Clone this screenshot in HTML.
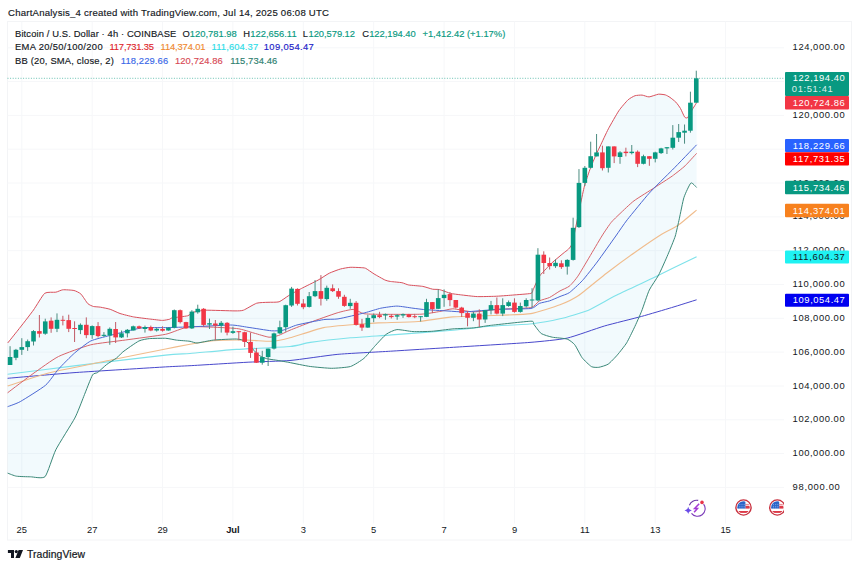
<!DOCTYPE html>
<html><head><meta charset="utf-8"><style>
html,body{margin:0;padding:0;background:#fff;width:860px;height:568px;overflow:hidden}
svg{position:absolute;left:0;top:0;display:block}
text{font-family:"Liberation Sans",sans-serif}
</style></head><body>
<svg width="860" height="568" viewBox="0 0 860 568">

<rect x="7.5" y="21.5" width="844" height="518.5" fill="#fff" stroke="#F3F4F6" stroke-width="1"/>
<path d="M7.5,487.4 H784 M7.5,453.6 H784 M7.5,419.8 H784 M7.5,386.0 H784 M7.5,352.1 H784 M7.5,318.3 H784 M7.5,284.5 H784 M7.5,250.7 H784 M7.5,216.9 H784 M7.5,183.0 H784 M7.5,149.2 H784 M7.5,115.4 H784 M7.5,81.6 H784 M7.5,47.8 H784 M21.8,21.5 V523.5 M92.2,21.5 V523.5 M162.6,21.5 V523.5 M232.9,21.5 V523.5 M303.3,21.5 V523.5 M373.7,21.5 V523.5 M444.1,21.5 V523.5 M514.5,21.5 V523.5 M584.8,21.5 V523.5 M655.2,21.5 V523.5 M725.6,21.5 V523.5" stroke="#F6F7F9" stroke-width="1" fill="none"/>
<path d="M7.7,343.0 C8.7,341.8 15.7,333.0 18.1,330.0 C20.5,327.0 31.1,313.4 33.5,310.0 C35.9,306.6 42.7,294.9 44.7,293.3 C46.7,291.7 54.1,292.5 55.8,292.2 C57.5,291.9 61.1,290.0 62.8,289.8 C64.5,289.6 72.3,290.1 74.0,290.5 C75.7,290.9 79.6,292.8 80.9,294.0 C82.2,295.2 86.7,302.6 87.9,303.7 C89.1,304.8 92.3,306.2 93.5,306.5 C94.7,306.8 99.0,306.9 100.5,307.2 C102.0,307.5 108.4,308.7 110.2,309.3 C112.0,309.9 117.9,312.8 120.0,313.5 C122.1,314.2 130.8,316.4 133.5,316.9 C136.2,317.4 147.0,318.7 149.6,319.0 C152.2,319.3 160.6,320.4 162.4,320.4 C164.2,320.4 168.5,319.5 169.4,319.3 C170.3,319.1 170.5,318.2 172.2,317.9 C173.9,317.6 185.7,316.3 187.6,315.8 C189.5,315.3 191.4,312.8 193.1,312.3 C194.8,311.8 201.9,310.3 205.7,310.2 C209.5,310.1 231.5,310.9 235.0,310.9 C238.5,310.9 241.4,310.9 243.4,310.2 C245.4,309.5 254.4,303.9 256.7,303.2 C259.0,302.5 265.9,302.4 268.0,302.3 C270.1,302.2 277.2,302.4 279.1,301.8 C281.0,301.2 286.8,296.7 288.8,295.5 C290.8,294.3 298.7,289.9 301.4,288.5 C304.1,287.1 315.5,281.5 318.1,280.1 C320.7,278.7 327.2,274.2 329.3,273.2 C331.4,272.2 338.6,269.5 340.5,269.0 C342.4,268.5 348.4,267.4 350.2,267.3 C352.0,267.2 358.6,267.5 360.0,267.6 C361.4,267.7 364.3,267.7 365.6,268.3 C366.9,268.9 372.2,272.8 374.0,273.9 C375.8,275.0 383.6,279.4 385.1,280.1 C386.6,280.8 389.2,281.3 390.7,281.5 C392.2,281.7 400.2,282.4 401.9,282.7 C403.6,283.0 406.9,284.7 408.8,285.0 C410.7,285.3 420.6,286.0 422.8,286.4 C425.0,286.8 431.1,288.9 432.6,289.2 C434.1,289.5 437.8,289.2 439.5,289.6 C441.2,290.0 448.8,292.9 450.7,293.4 C452.6,293.9 458.1,294.5 460.5,294.8 C462.9,295.1 474.2,296.5 477.4,296.6 C480.6,296.7 491.7,296.4 494.9,296.3 C498.1,296.2 509.0,295.4 512.3,295.1 C515.6,294.8 529.0,293.9 530.9,293.4 C532.8,292.9 532.5,290.9 533.3,289.3 C534.1,287.7 538.1,278.3 539.3,276.4 C540.5,274.5 544.9,270.1 546.1,268.8 C547.3,267.5 551.4,263.4 552.9,262.0 C554.4,260.6 561.6,254.7 563.0,253.5 C564.4,252.3 567.5,250.2 568.4,249.2 C569.3,248.2 571.3,246.6 572.4,242.5 C573.5,238.4 579.3,209.8 580.4,204.6 C581.5,199.4 583.6,189.1 584.5,185.9 C585.4,182.7 588.7,172.8 589.8,169.8 C590.9,166.8 595.5,155.9 596.5,153.7 C597.5,151.5 599.1,148.3 600.2,146.0 C601.3,143.7 606.7,132.0 608.4,128.8 C610.1,125.6 617.0,113.5 618.8,110.8 C620.6,108.1 626.6,101.2 628.1,99.8 C629.6,98.4 633.8,96.1 635.1,95.7 C636.4,95.3 640.8,95.0 642.1,95.1 C643.4,95.2 647.6,97.0 649.1,96.9 C650.6,96.8 656.9,94.4 658.4,94.2 C659.9,94.0 664.2,94.6 665.3,94.9 C666.4,95.2 669.0,96.7 670.0,97.4 C671.0,98.1 674.8,101.1 675.8,102.1 C676.8,103.1 679.7,107.1 680.5,108.5 C681.3,109.9 683.9,116.0 684.5,116.9 C685.1,117.8 686.8,118.2 687.4,117.8 C688.0,117.4 690.0,113.4 690.8,112.0 C691.6,110.6 696.1,103.5 696.6,102.6 L696.6,187.5 C696.1,187.1 692.1,182.1 690.9,183.0 C689.7,183.9 685.1,194.0 684.0,197.3 C682.9,200.6 680.1,215.3 679.3,218.8 C678.5,222.3 676.3,232.7 675.3,236.0 C674.3,239.3 669.4,251.0 667.9,254.6 C666.4,258.2 660.3,271.9 658.6,275.1 C656.9,278.3 650.9,286.7 649.3,290.0 C647.7,293.3 643.0,307.7 641.6,311.2 C640.2,314.7 635.6,325.0 634.2,327.9 C632.8,330.8 628.2,340.3 626.7,342.8 C625.2,345.3 619.1,352.9 617.4,354.9 C615.7,356.9 609.8,363.1 608.1,364.2 C606.4,365.3 600.3,367.1 598.8,367.3 C597.3,367.5 592.9,367.5 591.4,366.6 C589.9,365.7 583.6,359.7 582.1,357.7 C580.6,355.7 576.1,346.4 574.7,344.7 C573.3,343.0 569.3,339.8 567.2,339.1 C565.1,338.4 554.7,337.7 552.3,337.2 C549.9,336.7 542.9,334.7 541.2,333.5 C539.5,332.3 534.6,325.3 533.7,324.2 C532.8,323.1 534.9,321.1 530.9,321.2 C526.9,321.3 495.6,324.8 490.3,325.4 C485.0,326.0 476.8,327.6 473.4,327.9 C470.0,328.2 456.7,328.6 452.9,328.9 C449.1,329.2 435.4,331.1 431.7,331.3 C428.0,331.5 416.2,331.8 413.0,331.6 C409.8,331.4 399.4,329.4 396.9,329.6 C394.4,329.8 388.2,332.8 386.2,334.3 C384.2,335.8 376.6,344.2 374.6,346.4 C372.6,348.6 366.1,356.6 363.9,358.4 C361.7,360.2 353.5,365.6 350.5,366.5 C347.5,367.4 335.4,368.3 331.7,368.3 C328.0,368.3 314.2,367.0 310.3,366.5 C306.4,366.0 292.1,363.0 288.9,362.4 C285.7,361.8 277.8,360.4 275.8,360.1 C273.8,359.8 268.2,359.1 266.7,358.7 C265.2,358.3 261.0,356.5 259.8,355.8 C258.6,355.1 255.1,351.8 254.0,350.6 C252.9,349.4 249.0,343.9 248.1,343.0 C247.2,342.1 245.8,341.1 244.7,340.7 C243.6,340.3 239.4,339.1 236.5,339.0 C233.6,338.9 216.9,339.7 213.3,340.1 C209.7,340.5 199.1,342.9 197.0,343.0 C194.9,343.1 191.9,341.6 190.0,341.3 C188.1,341.0 178.6,340.4 176.4,340.1 C174.2,339.8 168.1,338.4 165.6,338.3 C163.1,338.2 152.0,338.4 149.6,338.6 C147.2,338.8 141.4,339.8 138.9,341.0 C136.4,342.2 124.8,350.4 122.8,352.0 C120.8,353.6 118.1,356.9 116.6,358.0 C115.1,359.1 108.4,363.2 106.7,364.5 C105.0,365.8 98.9,371.5 97.6,372.5 C96.3,373.5 93.8,372.8 92.5,375.0 C91.2,377.2 85.3,392.6 83.7,396.6 C82.1,400.6 77.4,413.2 74.8,418.1 C72.2,423.0 58.5,444.4 55.8,449.8 C53.1,455.2 47.4,474.1 45.1,476.6 C42.8,479.1 33.0,476.8 30.4,476.8 C27.8,476.8 18.6,476.5 16.5,476.2 C14.4,475.9 8.4,473.4 7.6,473.1 Z" fill="#0A9CD6" fill-opacity="0.055" stroke="none"/>
<path d="M7.6,378.3 C13.9,377.8 61.6,373.5 76.1,372.5 C90.6,371.5 155.2,367.5 165.6,366.9 C176.0,366.3 182.4,366.1 190.0,365.7 C197.6,365.3 238.9,362.7 248.1,362.2 C257.3,361.7 281.8,361.2 290.0,360.5 C298.2,359.8 327.9,355.3 337.1,354.4 C346.3,353.5 379.4,351.9 390.6,351.2 C401.8,350.5 446.9,347.7 459.7,346.9 C472.5,346.1 520.1,343.2 530.0,342.4 C539.9,341.6 560.4,339.6 567.2,338.1 C574.0,336.6 597.6,328.0 604.4,326.0 C611.2,324.0 635.4,318.1 641.6,316.4 C647.8,314.7 666.6,309.1 671.6,307.6 C676.6,306.1 694.3,300.5 696.6,299.8" stroke="#4848CC" stroke-width="1.0" fill="none" stroke-linejoin="round"/>
<path d="M7.6,374.3 C13.9,373.5 61.6,367.4 76.1,365.6 C90.6,363.8 155.2,356.2 165.6,355.1 C176.0,354.0 183.5,354.0 190.0,353.5 C196.5,353.0 227.3,350.0 236.5,349.4 C245.7,348.8 283.2,347.1 290.0,346.5 C296.8,345.9 304.8,343.2 310.3,342.4 C315.8,341.6 343.1,338.5 350.5,337.8 C357.9,337.1 382.1,335.6 391.5,334.9 C400.9,334.2 443.8,331.0 452.9,330.2 C462.0,329.4 483.0,326.9 490.3,326.3 C497.6,325.7 526.2,324.4 532.6,323.7 C539.0,323.0 554.9,320.0 560.0,318.8 C565.1,317.6 582.8,312.5 587.9,310.4 C593.0,308.3 609.8,298.5 615.8,295.5 C621.8,292.5 645.6,281.5 653.0,277.9 C660.4,274.3 692.6,258.6 696.6,256.7" stroke="#7EE2EA" stroke-width="1.1" fill="none" stroke-linejoin="round"/>
<path d="M7.6,385.9 C11.6,384.7 41.1,374.9 50.7,372.5 C60.3,370.1 101.6,361.9 112.1,359.7 C122.6,357.5 158.5,350.4 165.6,349.0 C172.7,347.6 185.6,345.0 190.0,344.2 C194.4,343.4 208.0,341.1 213.3,340.7 C218.6,340.3 242.8,340.0 248.1,340.1 C253.4,340.2 267.6,341.5 271.4,341.3 C275.2,341.1 285.2,339.1 290.0,337.8 C294.8,336.5 317.7,328.8 323.7,327.6 C329.7,326.4 350.8,324.8 355.8,324.4 C360.8,324.0 372.5,323.2 378.2,322.9 C383.9,322.6 411.5,322.1 418.3,321.5 C425.1,320.9 445.5,317.5 452.9,316.9 C460.3,316.3 491.6,315.6 498.7,315.3 C505.8,315.0 525.3,314.6 530.9,313.6 C536.5,312.6 555.6,306.5 560.0,304.8 C564.4,303.1 574.3,298.4 578.6,295.5 C582.9,292.6 601.4,277.1 606.5,273.2 C611.6,269.3 629.4,256.2 634.4,252.7 C639.4,249.2 656.5,237.5 660.5,235.0 C664.5,232.5 674.8,227.5 678.1,225.2 C681.4,222.9 694.9,211.5 696.6,210.1" stroke="#F0BC8C" stroke-width="1.1" fill="none" stroke-linejoin="round"/>
<path d="M7.6,392.8 C9.9,391.0 28.3,377.0 33.0,373.7 C37.7,370.4 53.2,359.1 58.5,356.5 C63.8,353.9 84.6,346.3 90.7,344.8 C96.8,343.3 118.6,341.0 125.5,340.0 C132.4,339.0 159.7,335.5 165.6,334.3 C171.5,333.1 183.5,327.2 190.0,326.7 C196.5,326.2 230.6,327.9 236.5,328.5 C242.4,329.1 251.0,332.3 254.0,333.1 C257.0,333.9 266.8,337.0 269.0,337.2 C271.2,337.4 276.5,336.1 278.4,335.5 C280.3,334.9 287.1,331.4 290.0,330.2 C292.9,329.0 306.0,323.9 310.3,322.3 C314.6,320.7 333.2,314.1 337.1,312.9 C341.0,311.7 350.7,309.3 353.2,309.4 C355.7,309.5 361.5,313.3 363.9,313.7 C366.3,314.1 374.7,314.3 379.9,314.3 C385.1,314.3 415.5,314.5 421.0,314.2 C426.5,313.9 436.8,312.0 439.7,311.5 C442.6,311.0 449.8,308.8 452.9,308.8 C456.0,308.8 469.2,311.9 473.4,311.9 C477.6,311.9 493.4,309.7 498.7,309.3 C504.0,308.9 527.2,308.4 530.9,307.6 C534.6,306.8 537.6,301.8 539.3,300.9 C541.0,300.0 547.6,298.4 549.5,297.5 C551.4,296.6 558.2,291.9 560.0,290.9 C561.8,289.9 567.6,287.6 569.3,286.2 C571.0,284.8 575.6,279.7 578.6,275.1 C581.6,270.5 598.9,240.8 601.9,236.0 C604.9,231.2 609.5,224.5 611.2,222.4 C612.9,220.3 617.9,215.6 620.0,213.6 C622.1,211.6 630.8,203.2 634.0,200.8 C637.2,198.4 651.4,189.7 654.9,187.4 C658.4,185.1 669.5,178.0 672.3,176.0 C675.1,174.0 682.9,167.9 685.1,165.8 C687.3,163.7 695.5,154.5 696.6,153.4" stroke="#D8646A" stroke-width="1.0" fill="none" stroke-linejoin="round"/>
<path d="M7.6,473.1 C8.4,473.4 14.4,475.9 16.5,476.2 C18.6,476.5 27.8,476.8 30.4,476.8 C33.0,476.8 42.8,479.1 45.1,476.6 C47.4,474.1 53.1,455.2 55.8,449.8 C58.5,444.4 72.2,423.0 74.8,418.1 C77.4,413.2 82.1,400.6 83.7,396.6 C85.3,392.6 91.2,377.2 92.5,375.0 C93.8,372.8 96.3,373.5 97.6,372.5 C98.9,371.5 105.0,365.8 106.7,364.5 C108.4,363.2 115.1,359.1 116.6,358.0 C118.1,356.9 120.8,353.6 122.8,352.0 C124.8,350.4 136.4,342.2 138.9,341.0 C141.4,339.8 147.2,338.8 149.6,338.6 C152.0,338.4 163.1,338.2 165.6,338.3 C168.1,338.4 174.2,339.8 176.4,340.1 C178.6,340.4 188.1,341.0 190.0,341.3 C191.9,341.6 194.9,343.1 197.0,343.0 C199.1,342.9 209.7,340.5 213.3,340.1 C216.9,339.7 233.6,338.9 236.5,339.0 C239.4,339.1 243.6,340.3 244.7,340.7 C245.8,341.1 247.2,342.1 248.1,343.0 C249.0,343.9 252.9,349.4 254.0,350.6 C255.1,351.8 258.6,355.1 259.8,355.8 C261.0,356.5 265.2,358.3 266.7,358.7 C268.2,359.1 273.8,359.8 275.8,360.1 C277.8,360.4 285.7,361.8 288.9,362.4 C292.1,363.0 306.4,366.0 310.3,366.5 C314.2,367.0 328.0,368.3 331.7,368.3 C335.4,368.3 347.5,367.4 350.5,366.5 C353.5,365.6 361.7,360.2 363.9,358.4 C366.1,356.6 372.6,348.6 374.6,346.4 C376.6,344.2 384.2,335.8 386.2,334.3 C388.2,332.8 394.4,329.8 396.9,329.6 C399.4,329.4 409.8,331.4 413.0,331.6 C416.2,331.8 428.0,331.5 431.7,331.3 C435.4,331.1 449.1,329.2 452.9,328.9 C456.7,328.6 470.0,328.2 473.4,327.9 C476.8,327.6 485.0,326.0 490.3,325.4 C495.6,324.8 526.9,321.3 530.9,321.2 C534.9,321.1 532.8,323.1 533.7,324.2 C534.6,325.3 539.5,332.3 541.2,333.5 C542.9,334.7 549.9,336.7 552.3,337.2 C554.7,337.7 565.1,338.4 567.2,339.1 C569.3,339.8 573.3,343.0 574.7,344.7 C576.1,346.4 580.6,355.7 582.1,357.7 C583.6,359.7 589.9,365.7 591.4,366.6 C592.9,367.5 597.3,367.5 598.8,367.3 C600.3,367.1 606.4,365.3 608.1,364.2 C609.8,363.1 615.7,356.9 617.4,354.9 C619.1,352.9 625.2,345.3 626.7,342.8 C628.2,340.3 632.8,330.8 634.2,327.9 C635.6,325.0 640.2,314.7 641.6,311.2 C643.0,307.7 647.7,293.3 649.3,290.0 C650.9,286.7 656.9,278.3 658.6,275.1 C660.3,271.9 666.4,258.2 667.9,254.6 C669.4,251.0 674.3,239.3 675.3,236.0 C676.3,232.7 678.5,222.3 679.3,218.8 C680.1,215.3 682.9,200.6 684.0,197.3 C685.1,194.0 689.7,183.9 690.9,183.0 C692.1,182.1 696.1,187.1 696.6,187.5" stroke="#3A8878" stroke-width="1.0" fill="none" stroke-linejoin="round"/>
<path d="M7.6,406.7 C8.8,406.2 16.8,403.6 20.3,401.6 C23.8,399.6 42.1,388.2 45.6,385.2 C49.1,382.2 55.8,372.1 58.5,369.1 C61.2,366.1 71.6,355.6 74.6,353.0 C77.6,350.4 87.5,342.6 90.7,341.0 C93.9,339.4 105.7,336.6 109.4,335.6 C113.1,334.6 127.6,330.9 130.8,330.2 C134.0,329.5 141.0,327.8 144.2,327.6 C147.4,327.4 161.2,327.7 165.6,327.6 C170.0,327.5 186.4,327.0 192.4,326.8 C198.4,326.6 225.6,325.0 230.7,325.0 C235.8,325.0 244.3,326.8 248.0,327.3 C251.7,327.8 268.2,330.5 271.4,330.8 C274.6,331.1 280.7,330.7 283.0,330.2 C285.3,329.7 293.2,326.0 296.9,325.0 C300.6,324.0 319.9,320.2 323.7,319.6 C327.5,319.0 334.2,319.5 338.0,318.9 C341.8,318.3 360.9,313.8 364.8,312.8 C368.7,311.8 377.9,308.8 380.8,308.2 C383.7,307.6 393.9,306.1 396.9,306.1 C399.9,306.1 410.5,307.9 413.0,308.2 C415.5,308.5 420.5,309.2 423.7,309.5 C426.9,309.8 444.2,310.8 448.0,311.0 C451.8,311.2 460.3,312.1 464.9,311.9 C469.5,311.7 492.6,309.6 498.7,309.3 C504.8,309.0 527.2,309.0 530.9,308.5 C534.6,308.0 537.6,304.1 539.3,303.4 C541.0,302.7 547.6,301.5 549.5,300.9 C551.4,300.3 558.2,297.3 560.0,296.5 C561.8,295.7 567.3,294.1 569.3,292.7 C571.3,291.3 579.7,283.5 582.3,280.7 C584.9,277.9 594.1,266.1 597.2,262.0 C600.3,257.9 613.0,239.9 615.8,236.0 C618.6,232.1 624.2,223.6 627.3,219.7 C630.4,215.8 645.0,197.9 649.1,193.3 C653.2,188.7 667.9,174.4 672.3,170.0 C676.7,165.6 694.4,147.1 696.6,144.8" stroke="#4C68D4" stroke-width="1.0" fill="none" stroke-linejoin="round"/>
<path d="M7.7,343.0 C8.7,341.8 15.7,333.0 18.1,330.0 C20.5,327.0 31.1,313.4 33.5,310.0 C35.9,306.6 42.7,294.9 44.7,293.3 C46.7,291.7 54.1,292.5 55.8,292.2 C57.5,291.9 61.1,290.0 62.8,289.8 C64.5,289.6 72.3,290.1 74.0,290.5 C75.7,290.9 79.6,292.8 80.9,294.0 C82.2,295.2 86.7,302.6 87.9,303.7 C89.1,304.8 92.3,306.2 93.5,306.5 C94.7,306.8 99.0,306.9 100.5,307.2 C102.0,307.5 108.4,308.7 110.2,309.3 C112.0,309.9 117.9,312.8 120.0,313.5 C122.1,314.2 130.8,316.4 133.5,316.9 C136.2,317.4 147.0,318.7 149.6,319.0 C152.2,319.3 160.6,320.4 162.4,320.4 C164.2,320.4 168.5,319.5 169.4,319.3 C170.3,319.1 170.5,318.2 172.2,317.9 C173.9,317.6 185.7,316.3 187.6,315.8 C189.5,315.3 191.4,312.8 193.1,312.3 C194.8,311.8 201.9,310.3 205.7,310.2 C209.5,310.1 231.5,310.9 235.0,310.9 C238.5,310.9 241.4,310.9 243.4,310.2 C245.4,309.5 254.4,303.9 256.7,303.2 C259.0,302.5 265.9,302.4 268.0,302.3 C270.1,302.2 277.2,302.4 279.1,301.8 C281.0,301.2 286.8,296.7 288.8,295.5 C290.8,294.3 298.7,289.9 301.4,288.5 C304.1,287.1 315.5,281.5 318.1,280.1 C320.7,278.7 327.2,274.2 329.3,273.2 C331.4,272.2 338.6,269.5 340.5,269.0 C342.4,268.5 348.4,267.4 350.2,267.3 C352.0,267.2 358.6,267.5 360.0,267.6 C361.4,267.7 364.3,267.7 365.6,268.3 C366.9,268.9 372.2,272.8 374.0,273.9 C375.8,275.0 383.6,279.4 385.1,280.1 C386.6,280.8 389.2,281.3 390.7,281.5 C392.2,281.7 400.2,282.4 401.9,282.7 C403.6,283.0 406.9,284.7 408.8,285.0 C410.7,285.3 420.6,286.0 422.8,286.4 C425.0,286.8 431.1,288.9 432.6,289.2 C434.1,289.5 437.8,289.2 439.5,289.6 C441.2,290.0 448.8,292.9 450.7,293.4 C452.6,293.9 458.1,294.5 460.5,294.8 C462.9,295.1 474.2,296.5 477.4,296.6 C480.6,296.7 491.7,296.4 494.9,296.3 C498.1,296.2 509.0,295.4 512.3,295.1 C515.6,294.8 529.0,293.9 530.9,293.4 C532.8,292.9 532.5,290.9 533.3,289.3 C534.1,287.7 538.1,278.3 539.3,276.4 C540.5,274.5 544.9,270.1 546.1,268.8 C547.3,267.5 551.4,263.4 552.9,262.0 C554.4,260.6 561.6,254.7 563.0,253.5 C564.4,252.3 567.5,250.2 568.4,249.2 C569.3,248.2 571.3,246.6 572.4,242.5 C573.5,238.4 579.3,209.8 580.4,204.6 C581.5,199.4 583.6,189.1 584.5,185.9 C585.4,182.7 588.7,172.8 589.8,169.8 C590.9,166.8 595.5,155.9 596.5,153.7 C597.5,151.5 599.1,148.3 600.2,146.0 C601.3,143.7 606.7,132.0 608.4,128.8 C610.1,125.6 617.0,113.5 618.8,110.8 C620.6,108.1 626.6,101.2 628.1,99.8 C629.6,98.4 633.8,96.1 635.1,95.7 C636.4,95.3 640.8,95.0 642.1,95.1 C643.4,95.2 647.6,97.0 649.1,96.9 C650.6,96.8 656.9,94.4 658.4,94.2 C659.9,94.0 664.2,94.6 665.3,94.9 C666.4,95.2 669.0,96.7 670.0,97.4 C671.0,98.1 674.8,101.1 675.8,102.1 C676.8,103.1 679.7,107.1 680.5,108.5 C681.3,109.9 683.9,116.0 684.5,116.9 C685.1,117.8 686.8,118.2 687.4,117.8 C688.0,117.4 690.0,113.4 690.8,112.0 C691.6,110.6 696.1,103.5 696.6,102.6" stroke="#D9505C" stroke-width="1.0" fill="none" stroke-linejoin="round"/>
<path d="M7.5,78.3 H784" stroke="#089981" stroke-opacity="0.6" stroke-width="1" stroke-dasharray="1,1.6" fill="none"/>
<path d="M10.07,346.2 V365.0 M15.94,348.9 V360.2 M21.80,338.2 V354.9 M27.66,339.5 V350.9 M33.53,330.1 V345.5 M45.26,318.7 V334.8 M56.99,313.4 V332.1 M80.45,323.4 V334.1 M92.18,325.4 V338.8 M103.91,332.1 V336.8 M109.78,327.4 V344.8 M121.50,330.5 V338.0 M127.37,329.0 V337.4 M133.24,325.6 V330.5 M144.97,325.6 V332.6 M156.70,327.7 V331.6 M168.43,327.4 V330.7 M174.29,309.5 V328.4 M191.89,310.2 V329.0 M197.75,304.7 V313.7 M209.48,318.6 V329.0 M221.21,321.0 V332.6 M232.94,326.7 V333.9 M262.26,350.8 V364.7 M268.13,348.6 V366.0 M274.00,332.6 V349.5 M279.86,320.7 V333.9 M285.73,304.7 V331.7 M291.59,286.9 V306.9 M309.19,292.0 V307.5 M315.05,280.1 V297.1 M326.78,285.6 V300.8 M350.24,298.8 V308.8 M367.84,314.8 V327.8 M373.70,313.5 V322.2 M385.43,313.5 V319.8 M397.16,314.2 V319.8 M403.03,313.5 V317.9 M420.62,316.2 V321.5 M426.49,298.8 V317.1 M438.22,289.4 V309.1 M444.08,289.4 V306.8 M473.41,311.9 V321.2 M485.14,310.2 V322.9 M491.00,300.9 V314.4 M502.73,298.3 V316.1 M508.60,300.5 V306.8 M520.33,302.6 V312.7 M526.19,298.3 V307.6 M532.05,288.2 V307.6 M537.92,248.2 V301.2 M555.51,259.4 V267.9 M567.25,259.2 V274.6 M573.11,217.7 V260.6 M578.98,169.1 V228.0 M584.84,166.0 V186.0 M590.70,141.7 V168.5 M596.57,134.0 V156.4 M608.30,146.4 V172.5 M620.03,151.1 V163.8 M631.76,145.0 V154.4 M643.49,154.7 V164.4 M655.22,151.7 V162.4 M661.08,147.8 V154.0 M666.95,147.0 V154.0 M672.81,125.1 V149.5 M678.68,124.0 V142.0 M684.54,124.5 V143.7 M690.41,91.7 V132.7 M696.27,70.7 V102.7" stroke="#4C8C80" stroke-width="1" fill="none"/>
<g fill="#089981"><rect x="7.77" y="357.0" width="4.6" height="8.0"/><rect x="13.64" y="349.8" width="4.6" height="8.0"/><rect x="19.50" y="347.1" width="4.6" height="2.7"/><rect x="25.36" y="341.2" width="4.6" height="5.9"/><rect x="31.23" y="331.1" width="4.6" height="10.4"/><rect x="42.96" y="321.4" width="4.6" height="12.3"/><rect x="54.69" y="319.8" width="4.6" height="9.0"/><rect x="78.15" y="324.8" width="4.6" height="5.3"/><rect x="89.88" y="326.1" width="4.6" height="9.0"/><rect x="101.61" y="334.8" width="4.6" height="1.1"/><rect x="107.48" y="328.8" width="4.6" height="6.7"/><rect x="119.20" y="333.3" width="4.6" height="4.1"/><rect x="125.07" y="329.8" width="4.6" height="3.5"/><rect x="130.94" y="326.3" width="4.6" height="4.2"/><rect x="142.66" y="327.0" width="4.6" height="2.0"/><rect x="154.40" y="328.8" width="4.6" height="1.7"/><rect x="166.12" y="327.7" width="4.6" height="2.8"/><rect x="171.99" y="310.2" width="4.6" height="17.5"/><rect x="189.59" y="311.6" width="4.6" height="16.8"/><rect x="195.45" y="308.8" width="4.6" height="3.5"/><rect x="207.18" y="323.2" width="4.6" height="1.4"/><rect x="218.91" y="322.8" width="4.6" height="2.8"/><rect x="230.64" y="331.2" width="4.6" height="1.7"/><rect x="259.96" y="357.1" width="4.6" height="5.6"/><rect x="265.83" y="348.6" width="4.6" height="8.5"/><rect x="271.69" y="333.4" width="4.6" height="15.2"/><rect x="277.56" y="327.2" width="4.6" height="6.2"/><rect x="283.43" y="305.2" width="4.6" height="22.0"/><rect x="289.29" y="288.6" width="4.6" height="16.9"/><rect x="306.88" y="296.2" width="4.6" height="10.7"/><rect x="312.75" y="291.1" width="4.6" height="5.1"/><rect x="324.48" y="287.8" width="4.6" height="11.3"/><rect x="347.94" y="302.8" width="4.6" height="3.3"/><rect x="365.54" y="317.9" width="4.6" height="9.7"/><rect x="371.40" y="315.2" width="4.6" height="3.0"/><rect x="383.13" y="314.2" width="4.6" height="1.3"/><rect x="394.86" y="315.2" width="4.6" height="1.4"/><rect x="400.73" y="314.2" width="4.6" height="1.3"/><rect x="418.32" y="316.2" width="4.6" height="1.0"/><rect x="424.19" y="302.1" width="4.6" height="14.8"/><rect x="435.92" y="298.1" width="4.6" height="10.7"/><rect x="441.78" y="294.8" width="4.6" height="3.3"/><rect x="471.11" y="313.6" width="4.6" height="4.2"/><rect x="482.84" y="310.2" width="4.6" height="9.3"/><rect x="488.70" y="305.1" width="4.6" height="5.1"/><rect x="500.43" y="305.1" width="4.6" height="8.5"/><rect x="506.30" y="302.2" width="4.6" height="3.8"/><rect x="518.03" y="306.0" width="4.6" height="5.9"/><rect x="523.89" y="300.0" width="4.6" height="6.3"/><rect x="529.75" y="299.5" width="4.6" height="1.0"/><rect x="535.62" y="254.7" width="4.6" height="45.7"/><rect x="553.22" y="262.8" width="4.6" height="3.4"/><rect x="564.95" y="259.9" width="4.6" height="6.7"/><rect x="570.81" y="227.8" width="4.6" height="32.1"/><rect x="576.68" y="182.9" width="4.6" height="44.2"/><rect x="582.54" y="167.8" width="4.6" height="15.1"/><rect x="588.40" y="156.2" width="4.6" height="11.6"/><rect x="594.27" y="152.4" width="4.6" height="4.0"/><rect x="606.00" y="146.4" width="4.6" height="21.4"/><rect x="617.73" y="152.4" width="4.6" height="4.6"/><rect x="629.46" y="151.7" width="4.6" height="1.4"/><rect x="641.19" y="156.2" width="4.6" height="7.6"/><rect x="652.92" y="152.4" width="4.6" height="6.4"/><rect x="658.78" y="148.4" width="4.6" height="4.7"/><rect x="664.65" y="147.2" width="4.6" height="1.2"/><rect x="670.51" y="137.7" width="4.6" height="10.1"/><rect x="676.38" y="132.1" width="4.6" height="5.6"/><rect x="682.25" y="130.7" width="4.6" height="2.0"/><rect x="688.11" y="102.7" width="4.6" height="28.0"/><rect x="693.98" y="78.3" width="4.6" height="24.4"/></g>
<path d="M39.39,315.0 V337.5 M51.12,317.4 V332.8 M62.86,315.8 V325.4 M68.72,314.7 V332.1 M74.59,321.3 V342.0 M86.31,317.4 V338.2 M98.05,322.1 V337.5 M115.64,322.0 V343.0 M139.10,325.6 V329.0 M150.83,325.6 V331.2 M162.56,326.3 V331.6 M180.16,309.5 V323.5 M186.02,321.8 V328.8 M203.62,308.1 V326.6 M215.35,320.0 V340.2 M227.08,322.1 V335.3 M238.81,331.2 V340.2 M244.67,331.7 V347.0 M250.54,332.6 V357.9 M256.40,347.9 V363.0 M297.46,288.3 V305.5 M303.32,299.1 V309.2 M320.92,275.1 V305.5 M332.65,284.4 V292.0 M338.51,288.3 V298.8 M344.38,294.8 V306.8 M356.11,301.1 V325.6 M361.97,318.9 V330.9 M379.56,311.8 V318.2 M391.30,314.2 V318.5 M408.89,313.9 V317.5 M414.76,313.9 V318.2 M432.35,302.1 V313.1 M449.95,292.1 V306.2 M455.81,300.0 V308.5 M461.68,306.8 V317.0 M467.54,311.0 V326.3 M479.27,309.3 V327.1 M496.87,297.5 V314.4 M514.46,298.3 V312.7 M543.78,251.3 V274.0 M549.65,257.5 V269.5 M561.38,260.3 V268.9 M602.43,145.7 V170.5 M614.16,146.4 V163.1 M625.89,147.7 V156.4 M637.62,150.4 V167.1 M649.36,156.2 V165.8" stroke="#C05A66" stroke-width="1" fill="none"/>
<g fill="#F23645"><rect x="37.09" y="331.1" width="4.6" height="2.6"/><rect x="48.83" y="320.7" width="4.6" height="8.1"/><rect x="60.56" y="319.8" width="4.6" height="1.0"/><rect x="66.42" y="320.1" width="4.6" height="8.7"/><rect x="72.29" y="328.0" width="4.6" height="1.0"/><rect x="84.02" y="324.8" width="4.6" height="10.3"/><rect x="95.75" y="326.1" width="4.6" height="10.0"/><rect x="113.34" y="329.0" width="4.6" height="8.4"/><rect x="136.80" y="326.3" width="4.6" height="2.1"/><rect x="148.53" y="327.0" width="4.6" height="3.5"/><rect x="160.26" y="329.0" width="4.6" height="1.7"/><rect x="177.86" y="310.2" width="4.6" height="11.9"/><rect x="183.72" y="322.1" width="4.6" height="6.3"/><rect x="201.31" y="308.8" width="4.6" height="16.1"/><rect x="213.05" y="323.5" width="4.6" height="2.1"/><rect x="224.78" y="322.8" width="4.6" height="9.8"/><rect x="236.50" y="331.2" width="4.6" height="1.0"/><rect x="242.37" y="332.2" width="4.6" height="9.7"/><rect x="248.24" y="341.9" width="4.6" height="11.0"/><rect x="254.10" y="352.5" width="4.6" height="10.2"/><rect x="295.16" y="288.9" width="4.6" height="14.9"/><rect x="301.02" y="303.5" width="4.6" height="3.7"/><rect x="318.62" y="291.1" width="4.6" height="7.7"/><rect x="330.35" y="288.3" width="4.6" height="2.8"/><rect x="336.21" y="291.1" width="4.6" height="5.6"/><rect x="342.07" y="296.8" width="4.6" height="9.1"/><rect x="353.81" y="302.8" width="4.6" height="22.1"/><rect x="359.67" y="324.2" width="4.6" height="3.4"/><rect x="377.26" y="315.2" width="4.6" height="1.9"/><rect x="389.00" y="315.8" width="4.6" height="1.3"/><rect x="406.59" y="314.4" width="4.6" height="2.7"/><rect x="412.46" y="316.2" width="4.6" height="1.0"/><rect x="430.05" y="302.1" width="4.6" height="7.0"/><rect x="447.65" y="294.1" width="4.6" height="6.0"/><rect x="453.51" y="300.0" width="4.6" height="7.6"/><rect x="459.38" y="307.6" width="4.6" height="5.5"/><rect x="465.24" y="313.1" width="4.6" height="4.7"/><rect x="476.97" y="313.6" width="4.6" height="5.9"/><rect x="494.56" y="305.1" width="4.6" height="8.5"/><rect x="512.16" y="302.6" width="4.6" height="9.3"/><rect x="541.49" y="254.7" width="4.6" height="8.3"/><rect x="547.35" y="263.0" width="4.6" height="3.1"/><rect x="559.08" y="263.3" width="4.6" height="3.8"/><rect x="600.13" y="152.4" width="4.6" height="15.8"/><rect x="611.87" y="146.4" width="4.6" height="10.0"/><rect x="623.60" y="151.7" width="4.6" height="1.4"/><rect x="635.33" y="151.7" width="4.6" height="12.1"/><rect x="647.06" y="156.2" width="4.6" height="2.6"/></g>
<text x="792.6" y="50.3" font-size="9.4" fill="#131722" textLength="52" lengthAdjust="spacing">124,000.00</text>
<text x="792.6" y="117.9" font-size="9.4" fill="#131722" textLength="52" lengthAdjust="spacing">120,000.00</text>
<text x="792.6" y="185.5" font-size="9.4" fill="#131722" textLength="52" lengthAdjust="spacing">116,000.00</text>
<text x="792.6" y="219.4" font-size="9.4" fill="#131722" textLength="52" lengthAdjust="spacing">114,000.00</text>
<text x="792.6" y="253.2" font-size="9.4" fill="#131722" textLength="52" lengthAdjust="spacing">112,000.00</text>
<text x="792.6" y="287.0" font-size="9.4" fill="#131722" textLength="52" lengthAdjust="spacing">110,000.00</text>
<text x="792.6" y="320.8" font-size="9.4" fill="#131722" textLength="52" lengthAdjust="spacing">108,000.00</text>
<text x="792.6" y="354.6" font-size="9.4" fill="#131722" textLength="52" lengthAdjust="spacing">106,000.00</text>
<text x="792.6" y="388.5" font-size="9.4" fill="#131722" textLength="52" lengthAdjust="spacing">104,000.00</text>
<text x="792.6" y="422.3" font-size="9.4" fill="#131722" textLength="52" lengthAdjust="spacing">102,000.00</text>
<text x="792.6" y="456.1" font-size="9.4" fill="#131722" textLength="52" lengthAdjust="spacing">100,000.00</text>
<text x="792.6" y="489.9" font-size="9.4" fill="#131722" textLength="47.2" lengthAdjust="spacing">98,000.00</text>
<rect x="785" y="72" width="64" height="24.1" rx="1" fill="#089981"/>
<text x="792.8" y="81.3" font-size="9.4" fill="#fff" textLength="52" lengthAdjust="spacing">122,194.40</text>
<text x="791.8" y="92.3" font-size="9.4" fill="#fff" fill-opacity="0.85" textLength="41" lengthAdjust="spacing">01:51:41</text>
<rect x="785" y="96.1" width="64" height="13.4" rx="1" fill="#F23645"/>
<text x="792.8" y="106.0" font-size="9.4" fill="#fff" textLength="52" lengthAdjust="spacing">120,724.86</text>
<rect x="785" y="139" width="64" height="13.0" rx="1" fill="#2962FF"/>
<text x="792.8" y="148.7" font-size="9.4" fill="#fff" textLength="52" lengthAdjust="spacing">118,229.66</text>
<rect x="785" y="152.2" width="64" height="13.4" rx="1" fill="#FF0000"/>
<text x="792.8" y="162.1" font-size="9.4" fill="#fff" textLength="52" lengthAdjust="spacing">117,731.35</text>
<rect x="785" y="180.8" width="64" height="13.5" rx="1" fill="#089981"/>
<text x="792.8" y="190.8" font-size="9.4" fill="#fff" textLength="52" lengthAdjust="spacing">115,734.46</text>
<rect x="785" y="203.7" width="64" height="13.6" rx="1" fill="#F7811E"/>
<text x="792.8" y="213.7" font-size="9.4" fill="#fff" textLength="52" lengthAdjust="spacing">114,374.01</text>
<rect x="785" y="250.5" width="64" height="13.1" rx="1" fill="#1FF2F2"/>
<text x="792.8" y="260.2" font-size="9.4" fill="#131722" textLength="52" lengthAdjust="spacing">111,604.37</text>
<rect x="785" y="293.7" width="64" height="13.0" rx="1" fill="#0000F0"/>
<text x="792.8" y="303.4" font-size="9.4" fill="#fff" textLength="52" lengthAdjust="spacing">109,054.47</text>
<text x="21.8" y="533" font-size="9.4" fill="#131722" text-anchor="middle">25</text>
<text x="92.2" y="533" font-size="9.4" fill="#131722" text-anchor="middle">27</text>
<text x="162.6" y="533" font-size="9.4" fill="#131722" text-anchor="middle">29</text>
<text x="232.9" y="533" font-size="9.4" fill="#131722" text-anchor="middle" font-weight="bold">Jul</text>
<text x="303.3" y="533" font-size="9.4" fill="#131722" text-anchor="middle">3</text>
<text x="373.7" y="533" font-size="9.4" fill="#131722" text-anchor="middle">5</text>
<text x="444.1" y="533" font-size="9.4" fill="#131722" text-anchor="middle">7</text>
<text x="514.5" y="533" font-size="9.4" fill="#131722" text-anchor="middle">9</text>
<text x="584.8" y="533" font-size="9.4" fill="#131722" text-anchor="middle">11</text>
<text x="655.2" y="533" font-size="9.4" fill="#131722" text-anchor="middle">13</text>
<text x="725.6" y="533" font-size="9.4" fill="#131722" text-anchor="middle">15</text>
<text x="8" y="15.7" font-size="9.6" fill="#131722" stroke="#131722" stroke-width="0.15" textLength="321" lengthAdjust="spacing">ChartAnalysis_4 created with TradingView.com, Jul 14, 2025 06:08 UTC</text>
<text x="15" y="36.8" font-size="9.4" fill="#131722" stroke="#131722" stroke-width="0.15" textLength="161.3" lengthAdjust="spacing">Bitcoin / U.S. Dollar · 4h · COINBASE</text>
<text x="182.4" y="36.8" font-size="9.4" fill="#131722" stroke="#131722" stroke-width="0.15">O</text>
<text x="189.8" y="36.8" font-size="9.4" fill="#089981" stroke="#089981" stroke-width="0.15" textLength="46.9" lengthAdjust="spacing">120,781.98</text>
<text x="243.3" y="36.8" font-size="9.4" fill="#131722" stroke="#131722" stroke-width="0.15">H</text>
<text x="250.3" y="36.8" font-size="9.4" fill="#089981" stroke="#089981" stroke-width="0.15" textLength="46.3" lengthAdjust="spacing">122,656.11</text>
<text x="302.8" y="36.8" font-size="9.4" fill="#131722" stroke="#131722" stroke-width="0.15">L</text>
<text x="308.5" y="36.8" font-size="9.4" fill="#089981" stroke="#089981" stroke-width="0.15" textLength="46.5" lengthAdjust="spacing">120,579.12</text>
<text x="362.2" y="36.8" font-size="9.4" fill="#131722" stroke="#131722" stroke-width="0.15">C</text>
<text x="369.2" y="36.8" font-size="9.4" fill="#089981" stroke="#089981" stroke-width="0.15" textLength="46.5" lengthAdjust="spacing">122,194.40</text>
<text x="422.4" y="36.8" font-size="9.4" fill="#089981" stroke="#089981" stroke-width="0.15" textLength="82.9" lengthAdjust="spacing">+1,412.42 (+1.17%)</text>
<text x="15" y="50.3" font-size="9.4" fill="#131722" stroke="#131722" stroke-width="0.15" textLength="87.6" lengthAdjust="spacing">EMA 20/50/100/200</text>
<text x="109.5" y="50.3" font-size="9.4" fill="#E0262C" stroke="#E0262C" stroke-width="0.15" textLength="44.5" lengthAdjust="spacing">117,731.35</text>
<text x="160.5" y="50.3" font-size="9.4" fill="#F08A30" stroke="#F08A30" stroke-width="0.15" textLength="45.0" lengthAdjust="spacing">114,374.01</text>
<text x="211.6" y="50.3" font-size="9.4" fill="#2EDDE8" stroke="#2EDDE8" stroke-width="0.15" textLength="46.5" lengthAdjust="spacing">111,604.37</text>
<text x="263.8" y="50.3" font-size="9.4" fill="#1C1CC8" stroke="#1C1CC8" stroke-width="0.15" textLength="50.0" lengthAdjust="spacing">109,054.47</text>
<text x="15" y="63.6" font-size="9.4" fill="#131722" stroke="#131722" stroke-width="0.15" textLength="98.8" lengthAdjust="spacing">BB (20, SMA, close, 2)</text>
<text x="120.8" y="63.6" font-size="9.4" fill="#3A68E8" stroke="#3A68E8" stroke-width="0.15" textLength="47.3" lengthAdjust="spacing">118,229.66</text>
<text x="175" y="63.6" font-size="9.4" fill="#D84A56" stroke="#D84A56" stroke-width="0.15" textLength="47.8" lengthAdjust="spacing">120,724.86</text>
<text x="230.2" y="63.6" font-size="9.4" fill="#2E8070" stroke="#2E8070" stroke-width="0.15" textLength="47.0" lengthAdjust="spacing">115,734.46</text>
<g fill="#131722"><path d="M7.9,550 H14 V558 H11 V553 H7.9 Z"/><circle cx="16.3" cy="551.6" r="1.6"/><path d="M18.6,550 H23 L19.8,558 H15.4 Z"/></g>
<text x="27" y="558" font-size="10.4" fill="#131722" stroke="#131722" stroke-width="0.2" textLength="58" lengthAdjust="spacing">TradingView</text>
<g>
<path d="M703.6,504.1 A7.6,7.6 0 0 1 691.5,513.3" fill="none" stroke="#7A3AB8" stroke-width="1.1"/>
<path d="M689.4,505.3 A7.6,7.6 0 0 1 698.2,500.4" fill="none" stroke="#6E3AA8" stroke-width="1.1"/>
<path d="M699.2,503.8 L694.6,508.6 H697.4 L694.1,512.2" fill="none" stroke="#A43AD6" stroke-width="1.5" stroke-linejoin="miter"/>
<path d="M688.2,506.7 Q688.7,509.9 691.9,510.4 Q688.7,510.9 688.2,514.1 Q687.7,510.9 684.5,510.4 Q687.7,509.9 688.2,506.7 Z" fill="#6A4CE8"/>
<circle cx="702" cy="502.4" r="1.8" fill="#E8354A"/>
</g>
<g>
<circle cx="743.5" cy="507.5" r="7.6" fill="#fff" stroke="#C8303E" stroke-width="1.4"/>
<clipPath id="cf1"><circle cx="743.5" cy="507.5" r="6.2"/></clipPath>
<g clip-path="url(#cf1)">
<rect x="736.5" y="500.5" width="14" height="14" fill="#fff"/>
<rect x="745.4" y="503.9" width="6" height="1.4" fill="#EE8A94"/>
<rect x="745.4" y="505.9" width="6" height="2.7" fill="#DC3A48"/>
<rect x="736.5" y="511.0" width="14" height="1.9" fill="#DC3A48"/>
<rect x="736.5" y="500.5" width="8.9" height="8.1" fill="#2A64C8"/>
<g fill="#CFE0FF"><circle cx="739.9" cy="504.3" r="0.45"/><circle cx="742.0" cy="504.3" r="0.45"/><circle cx="744.1" cy="504.3" r="0.45"/><circle cx="739.9" cy="506.2" r="0.45"/><circle cx="742.0" cy="506.2" r="0.45"/><circle cx="744.1" cy="506.2" r="0.45"/><circle cx="739.9" cy="507.9" r="0.45"/><circle cx="742.0" cy="507.9" r="0.45"/><circle cx="744.1" cy="507.9" r="0.45"/></g>
</g></g>
<g><clipPath id="clipax"><rect x="0" y="0" width="784" height="568"/></clipPath><g clip-path="url(#clipax)"><g>
<circle cx="777.3" cy="507.5" r="7.6" fill="#fff" stroke="#C8303E" stroke-width="1.4"/>
<clipPath id="cf2"><circle cx="777.3" cy="507.5" r="6.2"/></clipPath>
<g clip-path="url(#cf2)">
<rect x="770.3" y="500.5" width="14" height="14" fill="#fff"/>
<rect x="779.1999999999999" y="503.9" width="6" height="1.4" fill="#EE8A94"/>
<rect x="779.1999999999999" y="505.9" width="6" height="2.7" fill="#DC3A48"/>
<rect x="770.3" y="511.0" width="14" height="1.9" fill="#DC3A48"/>
<rect x="770.3" y="500.5" width="8.9" height="8.1" fill="#2A64C8"/>
<g fill="#CFE0FF"><circle cx="773.6999999999999" cy="504.3" r="0.45"/><circle cx="775.8" cy="504.3" r="0.45"/><circle cx="777.9" cy="504.3" r="0.45"/><circle cx="773.6999999999999" cy="506.2" r="0.45"/><circle cx="775.8" cy="506.2" r="0.45"/><circle cx="777.9" cy="506.2" r="0.45"/><circle cx="773.6999999999999" cy="507.9" r="0.45"/><circle cx="775.8" cy="507.9" r="0.45"/><circle cx="777.9" cy="507.9" r="0.45"/></g>
</g></g></g></g>
</svg></body></html>
